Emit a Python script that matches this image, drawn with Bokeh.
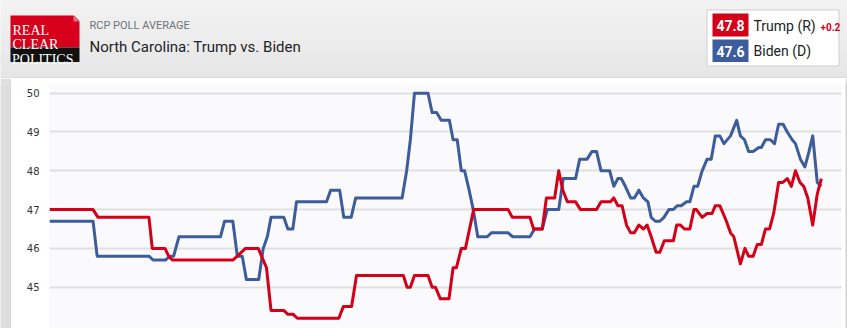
from bokeh.plotting import figure
from bokeh.layouts import column, row
from bokeh.models import Range1d, FixedTicker
from bokeh.embed import file_html
from bokeh.resources import INLINE
from bokeh.core.properties import value

# ---------------- data ----------------
# (day index, poll average)
trump = [(0, 47.0), (10.6, 47.0), (11.8, 46.8), (24.2, 46.8), (25.0, 46.0), (28.1, 46.0),
         (29.0, 45.8), (29.9, 45.7), (44.6, 45.7), (45.7, 45.8), (47.7, 46.0), (50.8, 46.0),
         (52.8, 45.5), (53.9, 44.4), (57.0, 44.4), (58.0, 44.3), (59.3, 44.3), (60.3, 44.2),
         (70.4, 44.2), (71.5, 44.5), (73.5, 44.5), (74.7, 45.3), (86.1, 45.3), (87.0, 45.0),
         (87.8, 45.0), (88.8, 45.3), (92.1, 45.3), (93.1, 45.0), (93.9, 45.0), (95.1, 44.7),
         (97.2, 44.7), (98.2, 45.5), (99.0, 45.5), (100.2, 46.0), (101.2, 46.0), (103.2, 47.0),
         (111.6, 47.0), (112.6, 46.8), (116.9, 46.8), (117.8, 46.5), (119.9, 46.5), (120.9, 47.3),
         (122.9, 47.3), (123.9, 48.0), (124.9, 47.5), (126.0, 47.2), (128.0, 47.2), (129.2, 47.0),
         (133.1, 47.0), (134.2, 47.2), (136.5, 47.2), (137.3, 47.3), (138.3, 47.1), (139.3, 47.1),
         (140.4, 46.6), (141.4, 46.4), (142.3, 46.4), (143.4, 46.6), (144.5, 46.5), (145.4, 46.6),
         (146.4, 46.3), (147.6, 45.9), (148.5, 45.9), (149.6, 46.2), (151.8, 46.2), (152.6, 46.6),
         (153.5, 46.6), (154.5, 46.5), (155.8, 46.5), (156.8, 47.0), (157.4, 47.0), (158.8, 46.8),
         (160.0, 46.9), (161.2, 46.9), (162.0, 47.1), (163.1, 47.1), (164.7, 46.7), (165.7, 46.4),
         (166.5, 46.3), (168.1, 45.6), (169.2, 46.0), (170.1, 45.8), (171.2, 45.8), (172.2, 46.1),
         (173.2, 46.1), (174.2, 46.5), (175.2, 46.5), (176.2, 46.9), (177.4, 47.7), (178.4, 47.7),
         (179.5, 47.8), (180.5, 47.6), (181.5, 48.0), (182.6, 47.7), (183.5, 47.6), (184.5, 47.3),
         (185.7, 46.6), (186.8, 47.4), (187.8, 47.8)]

biden = [(0, 46.7), (10.6, 46.7), (11.6, 45.8), (24.2, 45.8), (25.2, 45.7), (28.2, 45.7),
         (29.4, 45.8), (30.2, 45.8), (31.5, 46.3), (41.6, 46.3), (42.6, 46.7), (44.6, 46.7),
         (45.7, 45.8), (46.9, 45.8), (47.9, 45.2), (50.9, 45.2), (52.0, 46.0), (53.0, 46.3),
         (53.9, 46.8), (57.0, 46.8), (58.0, 46.5), (59.2, 46.5), (60.1, 47.2), (67.4, 47.2),
         (68.4, 47.5), (70.6, 47.5), (71.6, 46.8), (73.4, 46.8), (74.5, 47.3), (85.8, 47.3),
         (86.9, 48.0), (87.8, 48.8), (88.8, 50.0), (92.1, 50.0), (93.1, 49.5), (94.2, 49.5),
         (95.3, 49.3), (97.3, 49.3), (98.2, 48.8), (99.2, 48.8), (100.2, 48.0), (101.0, 48.0),
         (102.1, 47.5), (103.1, 47.0), (104.2, 46.3), (106.5, 46.3), (107.5, 46.4), (111.6, 46.4),
         (112.7, 46.3), (116.9, 46.3), (118.0, 46.5), (119.9, 46.5), (121.1, 47.0), (123.9, 47.0),
         (125.0, 47.8), (128.0, 47.8), (129.0, 48.3), (130.8, 48.3), (132.0, 48.5), (133.1, 48.5),
         (134.2, 48.0), (136.3, 48.0), (137.3, 47.6), (138.3, 47.8), (139.1, 47.8), (140.1, 47.6),
         (141.4, 47.3), (142.3, 47.3), (143.4, 47.5), (144.5, 47.3), (145.6, 47.2), (146.4, 46.8),
         (147.4, 46.7), (148.5, 46.7), (149.5, 46.8), (150.7, 47.0), (151.8, 47.0), (152.7, 47.1),
         (153.7, 47.1), (155.0, 47.2), (155.8, 47.2), (156.8, 47.6), (157.7, 47.6), (158.8, 48.0),
         (160.0, 48.3), (161.0, 48.3), (162.0, 48.9), (163.1, 48.9), (164.1, 48.7), (165.7, 48.9),
         (167.2, 49.3), (168.1, 48.9), (169.1, 48.8), (170.1, 48.5), (171.2, 48.5), (172.6, 48.6),
         (173.2, 48.6), (174.2, 48.8), (175.4, 48.8), (176.4, 48.7), (177.4, 49.2), (178.5, 49.2),
         (179.5, 49.0), (180.7, 48.8), (181.5, 48.7), (182.7, 48.3), (183.8, 48.1), (184.8, 48.5),
         (185.7, 48.9), (186.8, 47.7), (187.8, 47.6)]

y_ticks = [45, 46, 47, 48, 49, 50]
kicker = "RCP POLL AVERAGE"
title = "North Carolina: Trump vs. Biden"
trump_name = "Trump (R)"
biden_name = "Biden (D)"
trump_change = "+0.2"
logo_lines = ["REAL", "CLEAR", "POLITICS"]

RED = "#d40019"
BLUE = "#3d5c9b"
LOGO_RED = "#d6001c"


def bare(fig, bg):
    fig.xgrid.visible = False
    fig.ygrid.visible = False
    fig.outline_line_color = None
    fig.background_fill_color = bg
    fig.border_fill_color = bg


# ---------------- header (page y 0..78) ----------------
hdr = figure(width=847, height=78, x_range=Range1d(0, 847), y_range=Range1d(78, 0),
             output_backend="svg", toolbar_location=None, min_border=0,
             x_axis_location=None, y_axis_location=None)
bare(hdr, "#eeeeee")

rows = list(range(0, 77))


def shade(y):
    c = int(round(0xf4 - (0xf4 - 0xe3) * (y / 76.0)))
    return "#%02x%02x%02x" % (c, c, c)


hdr.quad(left=0, right=847, top=rows, bottom=[r + 1 for r in rows],
         fill_color=[shade(r) for r in rows], line_color=None)
hdr.quad(left=0, right=847, top=77, bottom=78, fill_color="#dcdcdc", line_color=None)
hdr.quad(left=10, right=846, top=77, bottom=78, fill_color="#d0d0d0", line_color=None)

# logo
hdr.quad(left=10, right=79, top=15, bottom=47, fill_color=LOGO_RED, line_color=None)
hdr.quad(left=10, right=79, top=47, bottom=61.5, fill_color="#111111", line_color=None)
hdr.patch(x=[73, 79.5, 79.5], y=[14.5, 14.5, 21], fill_color="#efefef", line_color=None)
hdr.patch(x=[73, 73, 79], y=[15, 21, 21], fill_color="#e9707e", line_color=None)
hdr.text(x=[12, 12], y=[29.5, 43.5], text=logo_lines[:2], text_color="white",
         text_font=value("Liberation Serif"), text_font_size="14px",
         text_baseline="alphabetic", text_align="left")
hdr.text(x=[11.5], y=[58.5], text=logo_lines[2:], text_color="white",
         text_font=value("Liberation Serif"), text_font_size="14px",
         text_baseline="alphabetic", text_align="left")

# titles
hdr.text(x=[89], y=[25], text=[kicker], text_color="#6c737a",
         text_font=value("Roboto"), text_font_size="11px", text_baseline="alphabetic")
hdr.text(x=[89], y=[46], text=[title], text_color="#1e2329",
         text_font=value("Roboto"), text_font_size="15px", text_baseline="alphabetic")

# legend box
hdr.quad(left=706.5, right=838.5, top=9.5, bottom=65.5, fill_color="white", line_color="#cfcfcf")
hdr.quad(left=712, right=748, top=13, bottom=36, fill_color=RED, line_color=None)
hdr.quad(left=712, right=748, top=39, bottom=61.5, fill_color=BLUE, line_color=None)
hdr.text(x=[730, 730], y=[25, 50.5],
         text=["%.1f" % trump[-1][1], "%.1f" % biden[-1][1]], text_color="white",
         text_font=value("Roboto"), text_font_size="14px", text_font_style="bold",
         text_align="center", text_baseline="middle")
hdr.text(x=[753, 753], y=[25, 50.5], text=[trump_name, biden_name], text_color="#222222",
         text_font=value("Roboto"), text_font_size="14px",
         text_align="left", text_baseline="middle")
hdr.text(x=[820], y=[26], text=[trump_change], text_color=RED,
         text_font=value("Roboto"), text_font_size="10px", text_font_style="bold",
         text_align="left", text_baseline="middle")

H = 250  # page y 78..328

# ---------------- left strip (page x 0..11) ----------------
lstrip = figure(width=11, height=H, x_range=Range1d(0, 11), y_range=Range1d(0, 1),
                output_backend="svg", toolbar_location=None, min_border=0,
                x_axis_location=None, y_axis_location=None)
bare(lstrip, "#dedede")
lstrip.quad(left=10, right=11, top=1, bottom=0, fill_color="#cccccc", line_color=None)

# ---------------- right strip (page x 845..847) ----------------
rstrip = figure(width=2, height=H, x_range=Range1d(845, 847), y_range=Range1d(0, 1),
                output_backend="svg", toolbar_location=None, min_border=0,
                x_axis_location=None, y_axis_location=None)
bare(rstrip, "#dedede")
rstrip.quad(left=845, right=846, top=1, bottom=0, fill_color="#cccccc", line_color=None)

# ---------------- main chart (page x 11..845) ----------------
p = figure(width=834, height=H, x_range=Range1d(0, 192.7), y_range=Range1d(43.935, 50.25),
           output_backend="svg", toolbar_location=None, x_axis_location=None,
           y_axis_location="left", min_border_left=38, min_border_right=4,
           min_border_top=5, min_border_bottom=0)
p.background_fill_color = "#fafafc"
p.border_fill_color = "white"
p.outline_line_color = None
p.xgrid.visible = False
p.ygrid.grid_line_color = "#e0e0e0"
p.ygrid.grid_line_width = 2
p.yaxis.ticker = FixedTicker(ticks=y_ticks)
p.yaxis.axis_line_color = None
p.yaxis.major_tick_line_color = None
p.yaxis.minor_tick_line_color = None
p.yaxis.major_tick_out = 0
p.yaxis.major_tick_in = 0
p.yaxis.major_label_standoff = 10
p.yaxis.major_label_text_font = "DejaVu Sans"
p.yaxis.major_label_text_font_size = "10px"
p.yaxis.major_label_text_color = "#333333"

p.line([d for d, v in biden], [v for d, v in biden], line_color=BLUE, line_width=3,
       line_join="round")
p.line([d for d, v in trump], [v for d, v in trump], line_color=RED, line_width=3,
       line_join="round")

layout = column(hdr, row(lstrip, p, rstrip, spacing=0), spacing=0)

open("out.html", "w").write(file_html(layout, INLINE))
